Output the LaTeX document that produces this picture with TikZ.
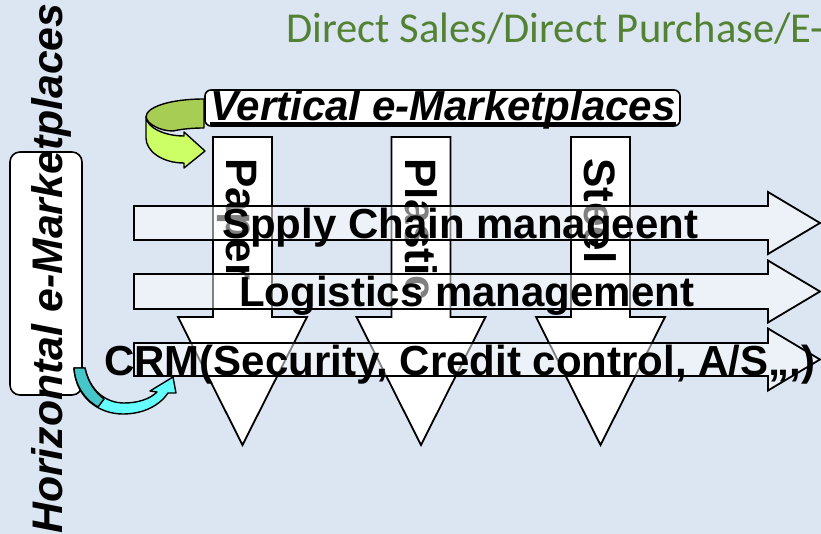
\documentclass[tikz,border=0pt]{standalone}
\usepackage{fontspec}
\setmainfont{Liberation Sans}
\newfontfamily\calibrifont{Carlito}
\definecolor{bg}{HTML}{DCE6F2}
\definecolor{titlegreen}{HTML}{548235}
\definecolor{greendark}{HTML}{A8CD55}
\definecolor{greenlight}{HTML}{CCFF66}
\definecolor{cyandark}{HTML}{45C6C8}
\definecolor{cyanlight}{HTML}{66FFFF}
\tikzset{
  bigtext/.style={font=\fontsize{42}{50}\selectfont\bfseries, inner sep=0pt, text=black},
  vlabel/.style={font=\fontsize{44}{52}\selectfont\bfseries, inner sep=0pt, text=black},
  bigit/.style={font=\fontsize{42}{50}\selectfont\bfseries\itshape, inner sep=0pt, text=black},
  htextstyle/.style={font=\fontsize{42.8}{50}\selectfont\bfseries\itshape, inner sep=0pt, text=black},
  titletext/.style={font=\calibrifont\fontsize{42.6}{50}\selectfont, inner sep=0pt, text=titlegreen},
  downarrow/.style={draw=black, fill=white, line width=1.8pt, line join=miter},
  rightarrow/.style={draw=black, fill=white, fill opacity=0.5, draw opacity=1, line width=1.8pt, line join=miter},
  labelbox/.style={draw=black, fill=white, line width=1.6pt},
  ribbon/.style={draw=black, line width=1.4pt, line join=round}
}
\begin{document}
\begin{tikzpicture}[x=1pt,y=-1pt]
\fill[bg] (0,0) rectangle (821,534);
\useasboundingbox (0,0) rectangle (821,534);

% title
\node[titletext, anchor=base west] (title) at (286,43) {Direct Sales/Direct Purchase/E-};

% horizontal e-marketplaces box and text
\draw[labelbox, rounded corners=10pt] (10,152) rectangle (82,395);
\node[htextstyle, rotate=90, anchor=base west] (htext) at (62,534) {Horizontal e-Marketplaces};

% green curved arrow
\filldraw[ribbon, fill=greendark] (204,99) .. controls (170,99) and (146,107) .. (146,117)
  .. controls (147,124) and (160,131) .. (173,131)
  .. controls (182,129) and (192,128) .. (204,128) -- cycle;
\filldraw[ribbon, fill=greenlight] (146,117) .. controls (147,128) and (165,136) .. (184,136)
  -- (184,132) -- (205,151) -- (184,168) -- (184,163)
  .. controls (162,163) and (146,151) .. (146,138) -- cycle;

% vertical e-marketplaces box and text
\draw[labelbox, rounded corners=6pt] (205,90) rectangle (680,126);
\node[bigit, anchor=base west] (vtext) at (210,121) {Vertical e-Marketplaces};
\draw[line width=2.2pt] ([yshift=-2.5pt]vtext.base west) -- ([yshift=-2.5pt]vtext.base east);

% downward block arrows
\foreach \cx/\nm/\txt in {242.5/paper/Paper, 421/plastic/Plastic, 600.5/steel/Steel}{
  \draw[downarrow] (\cx-29.5,137) -- (\cx+29.5,137) -- (\cx+29.5,317) -- (\cx+64.5,317)
     -- (\cx,445) -- (\cx-64.5,317) -- (\cx-29.5,317) -- cycle;
  \node[vlabel, rotate=-90, anchor=base west] (\nm) at (\cx-16,158) {\txt};
}

% rightward block arrows
\foreach \cy/\hw in {223/17, 291.5/17.5, 359.5/16.5}{
  \draw[rightarrow] (134,\cy-\hw) -- (768,\cy-\hw) -- (768,\cy-31) -- (820,\cy)
     -- (768,\cy+31) -- (768,\cy+\hw) -- (134,\cy+\hw) -- cycle;
}
\node[bigtext, anchor=base west] (scm) at (222,239) {Spply Chain manageent};
\node[bigtext, anchor=base west] (logi) at (239,307) {Logistics management};
\node[bigtext, anchor=base west] (crm) at (104,375) {CRM(Security, Credit control, A/S,,,)};

% cyan curved arrow
\filldraw[ribbon, fill=cyanlight] (74,368) .. controls (76,399) and (100,414) .. (123,414)
  .. controls (144,414) and (160,405) .. (168,393) -- (176,393) -- (173,377) -- (150,391) -- (157,392)
  .. controls (150,399) and (138,403) .. (124,403)
  .. controls (106,403) and (90,391) .. (85,368) -- cycle;
\filldraw[ribbon, fill=cyandark] (74,368) .. controls (75,385) and (84,399) .. (98,407)
  -- (104,399) .. controls (94,391) and (88,382) .. (85,368) -- cycle;
\end{tikzpicture}
\end{document}
